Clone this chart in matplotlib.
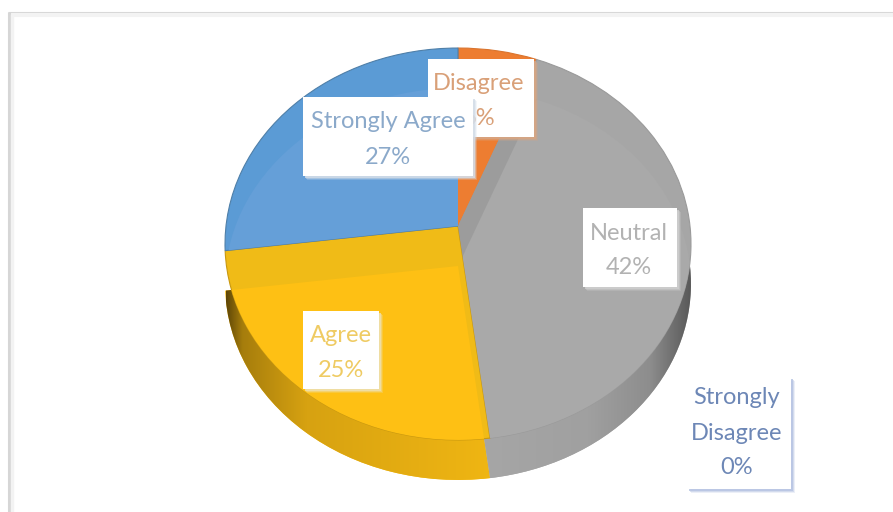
import matplotlib
matplotlib.use("Agg")
import matplotlib.pyplot as plt
import numpy as np
from matplotlib.colors import LinearSegmentedColormap
from matplotlib.patches import Rectangle
from matplotlib.transforms import Transform

plt.rcParams['font.family'] = ['Lato', 'DejaVu Sans']

# survey shares, clockwise from 12 o'clock
categories = ['Disagree', 'Neutral', 'Agree', 'Strongly Agree', 'Strongly Disagree']
values = [6, 42, 25, 27, 0]

band_colors = ['#ed7d31', '#a6a6a6', '#f0bb17', '#5b9bd5', '#4472c4']
face_colors = ['#ed7d31', '#a9a9a9', '#fec014', '#659fd8', '#4472c4']
text_colors = ['#d9a078', '#b2b2b2', '#efcb63', '#8ba9ca', '#6d87b6']
shadow_colors = ['#d8a582', '#cfcfcf', '#eee0b0', '#d3dde8', '#b5c3e2']

# label boxes: left, top, right, bottom in pixels, then text centre x
boxes = {
    'Disagree': (428, 59, 534, 137, 479),
    'Neutral': (583, 208, 677, 287, 629),
    'Agree': (303, 311, 379, 389, 341),
    'Strongly Agree': (303, 97, 473, 176, 388),
    'Strongly Disagree': (687, 377, 791, 489, 737),
}
draw_order = ['Disagree', 'Neutral', 'Agree', 'Strongly Disagree', 'Strongly Agree']
LINE_H = 35


class Tilt(Transform):
    """Perspective view of the unit disc, lowered by drop pixels."""
    input_dims = 2
    output_dims = 2

    def __init__(self, drop=0):
        super().__init__()
        self.drop = drop

    def transform_non_affine(self, xy):
        xy = np.asarray(xy, dtype=float)
        w = 1 + 0.0918 * xy[:, 1]
        return np.column_stack([458 + 232 * xy[:, 0] / w,
                                226 + self.drop - 194.3 * xy[:, 1] / w])


def draw_pie(ax, colors, drop, z):
    wedges, _ = ax.pie(values, colors=colors, startangle=90, counterclock=False,
                       radius=1, wedgeprops=dict(edgecolor='none', linewidth=0.8))
    for w in wedges:
        w.set_transform(Tilt(drop) + ax.transData)
        w.set_zorder(z)
    return wedges


def clip_wedge(w, target):
    # pie turns clipping off on its wedges
    w.set_clip_on(True)
    w.set_clip_path(target)


def side_gradient(ax, wedge, stops, x0, x1):
    cmap = LinearSegmentedColormap.from_list('side', stops)
    im = ax.imshow(np.linspace(0, 1, 256)[None, :], cmap=cmap, aspect='auto',
                   extent=(x0, x1, 500, 240), zorder=2)
    im.set_clip_path(wedge)


fig = plt.figure(figsize=(8.93, 5.12), dpi=100)
ax = fig.add_axes([0, 0, 1, 1])

# extruded wall: only the two front slices show
wall = draw_pie(ax, face_colors, 40, 1)
for i in (0, 3, 4):
    wall[i].set_visible(False)
side_gradient(ax, wall[2], [(0, '#5e4607'), (0.06, '#a67d0c'), (0.3, '#d7a211'), (1, '#f0b613')], 226, 494)
side_gradient(ax, wall[1], [(0, '#a6a6a6'), (0.5, '#a0a0a0'), (0.8, '#8d8d8d'), (1, '#585858')], 484, 692)

# top face with its see-through lower copy
top = draw_pie(ax, band_colors, 0, 3)
for w, c in zip(top, ['#d9742e', '#9a9a9a', '#c9980f', '#4f7fa8', 'none']):
    w.set_edgecolor(c)

inner = draw_pie(ax, face_colors, 40, 4)
for w, t in zip(inner, top):
    clip_wedge(w, t)

# darker strip where the lower orange slice shows through the grey one
strip = draw_pie(ax, ['#9c9c9c'] * 5, 40, 4.5)
for i, w in enumerate(strip):
    if i == 0:
        clip_wedge(w, top[1])
    else:
        w.set_visible(False)

ax.set_xlim(0, 893)
ax.set_ylim(512, 0)
ax.set_aspect('auto')
ax.axis('off')

# card outline
ax.plot([8, 893], [12.5, 12.5], color='#d6d6d6', lw=2.2, zorder=1, solid_capstyle='butt')
ax.plot([9, 893], [15, 15], color='#f3f3f3', lw=3, zorder=1, solid_capstyle='butt')
ax.plot([9, 9], [12, 512], color='#d6d6d6', lw=2.2, zorder=1, solid_capstyle='butt')
ax.plot([11.5, 11.5], [14, 512], color='#f3f3f3', lw=2.5, zorder=1, solid_capstyle='butt')
ax.text(15, -5.5, 'Figure', fontsize=16, family='Liberation Sans', color='#222222',
        ha='left', va='baseline', clip_on=True, zorder=1)

# data labels
for i, name in enumerate(draw_order):
    k = categories.index(name)
    x0, y0, x1, y1, xc = boxes[name]
    z = 10 + 2 * i
    for off, a in [(4, 0.25), (3, 0.45), (2, 0.8)]:
        ax.add_patch(Rectangle((x0 + off, y0 + off), x1 - x0, y1 - y0, facecolor=shadow_colors[k],
                               edgecolor='none', alpha=a, zorder=z))
    ax.add_patch(Rectangle((x0, y0), x1 - x0, y1 - y0, facecolor='white', edgecolor='none', zorder=z + 0.5))
    lines = name.split() if name == 'Strongly Disagree' else [name]
    lines = lines + [f'{values[k]}%']
    ym = (y0 + y1) / 2 + (3 if len(lines) == 2 else 0)
    for j, line in enumerate(lines):
        y = ym + (j - (len(lines) - 1) / 2) * LINE_H
        ax.text(xc, y, line, fontsize=17, color=text_colors[k], ha='center', va='center', zorder=z + 1)

fig.savefig('out.png', dpi=100)
